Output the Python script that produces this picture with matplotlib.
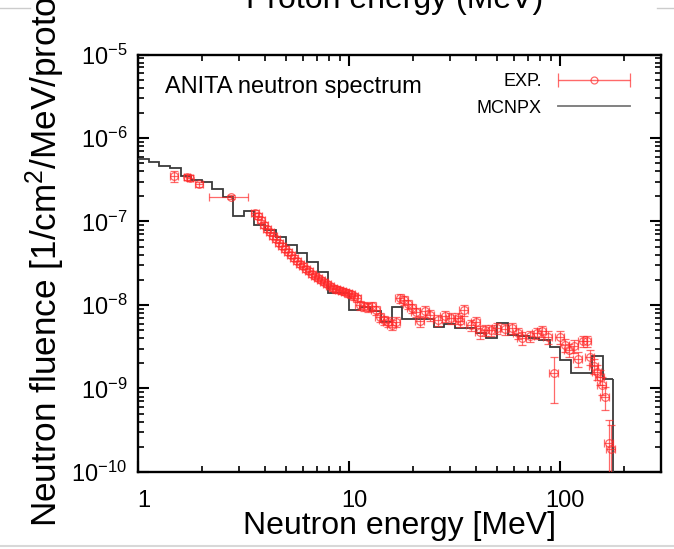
import matplotlib
matplotlib.use('Agg')
import matplotlib.pyplot as plt
from matplotlib.lines import Line2D
from matplotlib.legend_handler import HandlerErrorbar
from matplotlib.transforms import ScaledTranslation
from matplotlib.ticker import LogLocator, FuncFormatter, NullFormatter
import numpy as np

plt.rcParams['font.family'] = ['Liberation Sans', 'DejaVu Sans']
plt.rcParams['mathtext.fontset'] = 'custom'
plt.rcParams['mathtext.rm'] = 'Liberation Sans'
plt.rcParams['mathtext.it'] = 'Liberation Sans:italic'
plt.rcParams['mathtext.bf'] = 'Liberation Sans:bold'

# ---- MCNPX histogram (bin edges in MeV, fluence per bin) ----
mc_edges = [1.000, 1.122, 1.259, 1.413, 1.585, 1.778, 1.995, 2.239, 2.512, 2.818,
            3.162, 3.548, 3.981, 4.467, 5.012, 5.623, 6.310, 7.079, 7.943, 8.913,
            10.00, 11.22, 12.59, 14.13, 15.85, 17.78, 19.95, 22.39, 25.12, 28.18,
            31.62, 35.48, 39.81, 44.67, 50.12, 56.23, 63.10, 70.79, 79.43, 89.13,
            100.0, 112.2, 125.9, 141.3, 158.5, 177.8]
mc_vals = [5.56e-7, 5.09e-7, 4.68e-7, 4.37e-7, 3.51e-7, 3.14e-7, 3.00e-7, 2.48e-7, 1.99e-7, 1.16e-7,
           1.34e-7, 9.08e-8, 7.91e-8, 6.58e-8, 5.23e-8, 4.20e-8, 3.27e-8, 2.45e-8, 1.39e-8, 1.39e-8,
           8.71e-9, 9.54e-9, 8.47e-9, 6.31e-9, 9.54e-9, 6.80e-9, 6.80e-9, 6.80e-9, 5.50e-9, 5.87e-9,
           5.35e-9, 5.35e-9, 4.66e-9, 3.99e-9, 6.03e-9, 4.37e-9, 4.20e-9, 4.02e-9, 3.81e-9, 3.17e-9,
           2.19e-9, 1.52e-9, 1.52e-9, 2.45e-9, 1.30e-9]

# ---- Experimental points ----
exp_E = [1.475, 1.699, 1.756, 1.937, 2.747,
         3.570, 3.688, 3.811, 3.938, 4.069, 4.205, 4.345, 4.489, 4.639, 4.793,
         4.953, 5.117, 5.288, 5.464, 5.645, 5.833, 6.027, 6.228, 6.435, 6.649,
         6.871, 7.099, 7.335, 7.579, 7.831, 8.092, 8.361, 8.640, 8.927, 9.224,
         9.531, 9.849, 10.18, 10.51, 10.86,
         11.22, 11.73, 12.25, 12.80, 13.37, 13.96, 14.59, 15.23, 15.92, 16.63,
         17.37, 18.15, 18.96, 19.81, 20.69, 21.61, 22.82, 24.10, 26.30, 28.39,
         30.30, 32.71, 33.43, 34.92, 37.70, 39.81, 41.59, 43.93, 46.90, 50.06,
         54.63, 58.97, 62.96, 65.77, 71.77, 77.46, 81.79, 87.36, 93.26, 99.56,
         105.2, 109.9, 116.0, 121.2, 128.0, 133.7, 138.1, 144.3, 149.1, 154.1,
         157.4, 162.7, 169.9, 173.7]
exp_F = [3.49e-7, 3.40e-7, 3.30e-7, 2.80e-7, 1.98e-7,
         1.26e-7, 1.16e-7, 1.04e-7, 9.08e-8, 8.13e-8, 7.49e-8, 6.71e-8, 6.17e-8, 5.53e-8, 5.09e-8,
         4.68e-8, 4.31e-8, 3.97e-8, 3.66e-8, 3.36e-8, 3.10e-8, 2.93e-8, 2.70e-8, 2.55e-8, 2.35e-8,
         2.23e-8, 2.11e-8, 1.99e-8, 1.89e-8, 1.78e-8, 1.69e-8, 1.60e-8, 1.55e-8, 1.51e-8, 1.47e-8,
         1.43e-8, 1.39e-8, 1.35e-8, 1.28e-8, 1.21e-8,
         1.00e-8, 9.73e-9, 9.46e-9, 9.73e-9, 8.71e-9, 7.18e-9, 6.61e-9, 6.26e-9, 5.76e-9, 6.26e-9,
         1.21e-8, 1.15e-8, 1.03e-8, 9.20e-9, 8.24e-9, 6.43e-9, 8.47e-9, 7.59e-9, 6.61e-9, 7.38e-9,
         6.99e-9, 6.99e-9, 6.43e-9, 8.71e-9, 5.76e-9, 6.26e-9, 4.75e-9, 5.02e-9, 5.02e-9, 5.30e-9,
         5.16e-9, 5.30e-9, 4.62e-9, 4.02e-9, 4.25e-9, 4.62e-9, 4.88e-9, 4.14e-9, 1.53e-9, 4.14e-9,
         3.32e-9, 2.89e-9, 3.23e-9, 2.26e-9, 3.71e-9, 3.71e-9, 2.38e-9, 1.86e-9, 1.58e-9, 1.37e-9,
         1.10e-9, 7.91e-10, 2.22e-10, 1.88e-10]
exp_dF_rel = [0.15, 0.08, 0.08, 0.07, 0.05,
              0.08, 0.08, 0.08, 0.08, 0.08, 0.08, 0.08, 0.08, 0.08, 0.08,
              0.08, 0.08, 0.08, 0.08, 0.08, 0.08, 0.08, 0.08, 0.08, 0.08,
              0.08, 0.08, 0.08, 0.08, 0.08, 0.09, 0.09, 0.09, 0.09, 0.09,
              0.09, 0.10, 0.10, 0.10, 0.10,
              0.12, 0.12, 0.12, 0.12, 0.12, 0.12, 0.12, 0.14, 0.14, 0.14,
              0.12, 0.12, 0.12, 0.12, 0.12, 0.15, 0.15, 0.15, 0.15, 0.15,
              0.15, 0.15, 0.15, 0.15, 0.15, 0.15, 0.18, 0.15, 0.15, 0.15,
              0.15, 0.15, 0.15, 0.18, 0.15, 0.15, 0.15, 0.18, 0.56, 0.18,
              0.18, 0.18, 0.18, 0.20, 0.15, 0.15, 0.20, 0.20, 0.20, 0.20,
              0.25, 0.30, 0.90, 0.95]
exp_dE_rel = [0.04, 0.03, 0.03, 0.04, 0.21] + [0.04] * 35 + [0.05] * 54

# ---- labels ----
x_label = 'Neutron energy [MeV]'
y_label = 'Neutron fluence [1/cm$^2$/MeV/proton]'
note = 'ANITA neutron spectrum'
top_text = 'Proton energy (MeV)'
legend_labels = ['EXP.', 'MCNPX']

fig = plt.figure(figsize=(6.74, 5.49), dpi=100)
ax = fig.add_axes([0.2053, 0.1403, 0.7754, 0.7604])

red = '#ff2a2a'
gray = '#3a3a3a'

ax.stairs(mc_vals, mc_edges, baseline=None, color=gray, lw=1.3, zorder=3)
ax.vlines(mc_edges[-1], 1e-12, mc_vals[-1], color=gray, lw=1.3, zorder=3)

E = np.array(exp_E)
F = np.array(exp_F)
ax.errorbar(E, F, yerr=F * np.array(exp_dF_rel), xerr=E * np.array(exp_dE_rel),
            fmt='o', ms=5.5, mfc='none', mec=red, mew=0.9, color=red,
            ecolor=red, elinewidth=0.9, capsize=3.2, capthick=0.9,
            alpha=0.7, zorder=4)

# legend proxy: horizontal error bar with open circle
proxy = ax.errorbar([np.nan], [np.nan], xerr=[np.nan], fmt='o', ms=5, mfc='none',
                    mec=red, mew=0.9, color=red, ecolor=red, elinewidth=1.0,
                    capsize=5, capthick=1.0, alpha=0.7)

ax.set_xscale('log')
ax.set_yscale('log')
ax.set_xlim(1, 300)
ax.set_ylim(1e-10, 1e-5)

ax.xaxis.set_major_locator(LogLocator(base=10, numticks=10))
ax.xaxis.set_minor_locator(LogLocator(base=10, subs=np.arange(2, 10), numticks=20))
ax.xaxis.set_major_formatter(FuncFormatter(lambda v, p: f'{v:g}'))
ax.xaxis.set_minor_formatter(NullFormatter())
ax.yaxis.set_major_locator(LogLocator(base=10, numticks=10))
ax.yaxis.set_minor_locator(LogLocator(base=10, subs=np.arange(2, 10), numticks=20))
ax.yaxis.set_minor_formatter(NullFormatter())

ax.tick_params(which='both', direction='in', top=True, right=True)
ax.tick_params(which='major', length=8, width=1.5, labelsize=17, pad=8)
ax.tick_params(axis='x', which='major', pad=13)
ax.tick_params(which='minor', length=4, width=1.2)
for s in ax.spines.values():
    s.set_linewidth(1.7)

shift = ScaledTranslation(5 / 100, 0, fig.dpi_scale_trans)
for lab in ax.get_xticklabels():
    lab.set_transform(lab.get_transform() + shift)

ax.set_xlabel(x_label, fontsize=23, labelpad=-1)
ax.set_ylabel(y_label, fontsize=25.3)
ax.yaxis.set_label_coords(-0.137, 0.537)

ax.text(0.051, 0.922, note, transform=ax.transAxes, fontsize=17, va='center', ha='left')

mc_handle = Line2D([], [], color='#777777', lw=1.3)
ax.legend([proxy, mc_handle], legend_labels, loc='upper right',
          bbox_to_anchor=(0.972, 0.995), frameon=False, markerfirst=False,
          fontsize=13, handlelength=4.0, labelspacing=0.55, handletextpad=0.9,
          handler_map={proxy: HandlerErrorbar(xerr_size=2.0)})

fig.text(0.586, 0.985, top_text, fontsize=23, ha='center', va='baseline')

# thin gray frame remnants of the page
fig.add_artist(Line2D([0, 30 / 674], [1 - 8 / 549] * 2, color='#cccccc', lw=1.0))
fig.add_artist(Line2D([657 / 674, 1], [1 - 8 / 549] * 2, color='#cccccc', lw=1.0))
fig.add_artist(Line2D([0, 1], [1 - 546 / 549] * 2, color='#d8d8d8', lw=1.5))

fig.savefig('out.png', dpi=100)
